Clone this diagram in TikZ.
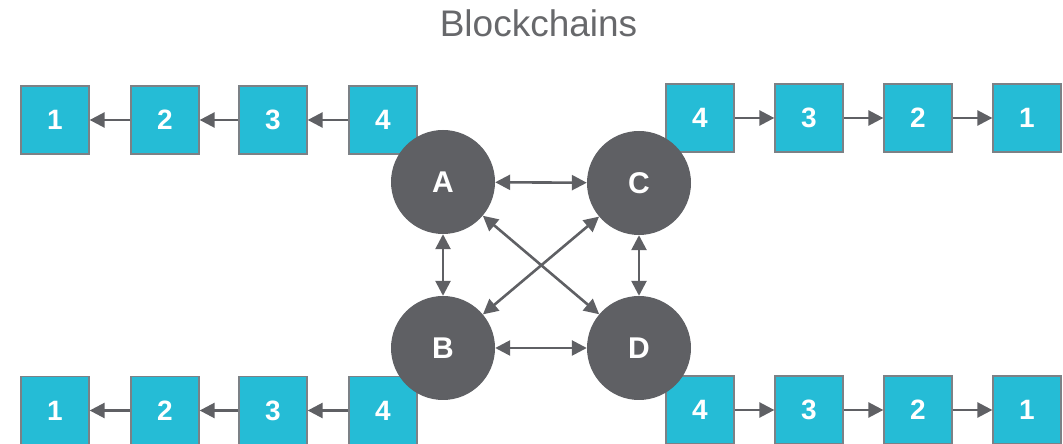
\documentclass[tikz,border=0pt]{standalone}
\usepackage{fontspec}
\setmainfont{Liberation Sans}
\usetikzlibrary{arrows.meta}
\usepackage{xcolor}

\definecolor{blockfill}{HTML}{25BCD6}
\definecolor{blockedge}{HTML}{7C8186}
\definecolor{peergray}{HTML}{5F6064}
\definecolor{titlegray}{HTML}{67686B}

\tikzset{
block/.style={rectangle, fill=blockfill, draw=blockedge, line width=1.3pt, minimum size=68pt, inner sep=0pt, text=white, font=\fontsize{28}{28}\selectfont\bfseries},
peer/.style={circle, fill=peergray, minimum size=104pt, inner sep=0pt, text=white, font=\fontsize{30}{30}\selectfont\bfseries},
link/.style={draw=peergray, line width=2.6pt, -{Triangle[length=15pt,width=15pt]}},
twoway/.style={link, {Triangle[length=15pt,width=15pt]}-{Triangle[length=15pt,width=15pt]}}
}

\begin{document}
\begin{tikzpicture}[x=1pt, y=1pt]

\useasboundingbox (0,0) rectangle (1063,444);

%title
\node[anchor=base, text=titlegray, font=\fontsize{37}{37}\selectfont] (title) at (538.5,407.3) {Blockchains};

%chains of blocks
\foreach \n/\x in {1/55,2/165,3/273,4/383} \node[block] (tl\n) at (\x,324) {\n};
\foreach \n/\x in {4/700,3/809,2/918,1/1027} \node[block] (tr\n) at (\x,326) {\n};
\foreach \n/\x in {1/55,2/165,3/273,4/383} \node[block] (bl\n) at (\x,33.5) {\n};
\foreach \n/\x in {4/700,3/809,2/918,1/1027} \node[block] (br\n) at (\x,34) {\n};

\foreach \a/\b in {4/3,3/2,2/1} {
\draw[link] (tl\a) -- (tl\b);
\draw[link] (tr\a) -- (tr\b);
\draw[link] (bl\a) -- (bl\b);
\draw[link] (br\a) -- (br\b);
}

%peers
\node[peer] (A) at (443,262) {A};
\node[peer] (C) at (639,261) {C};
\node[peer] (B) at (443,96) {B};
\node[peer] (D) at (639,96) {D};

\foreach \p/\q in {A/C,A/B,C/D,B/D,A/D,C/B} \draw[twoway] (\p) -- (\q);

\end{tikzpicture}
\end{document}
